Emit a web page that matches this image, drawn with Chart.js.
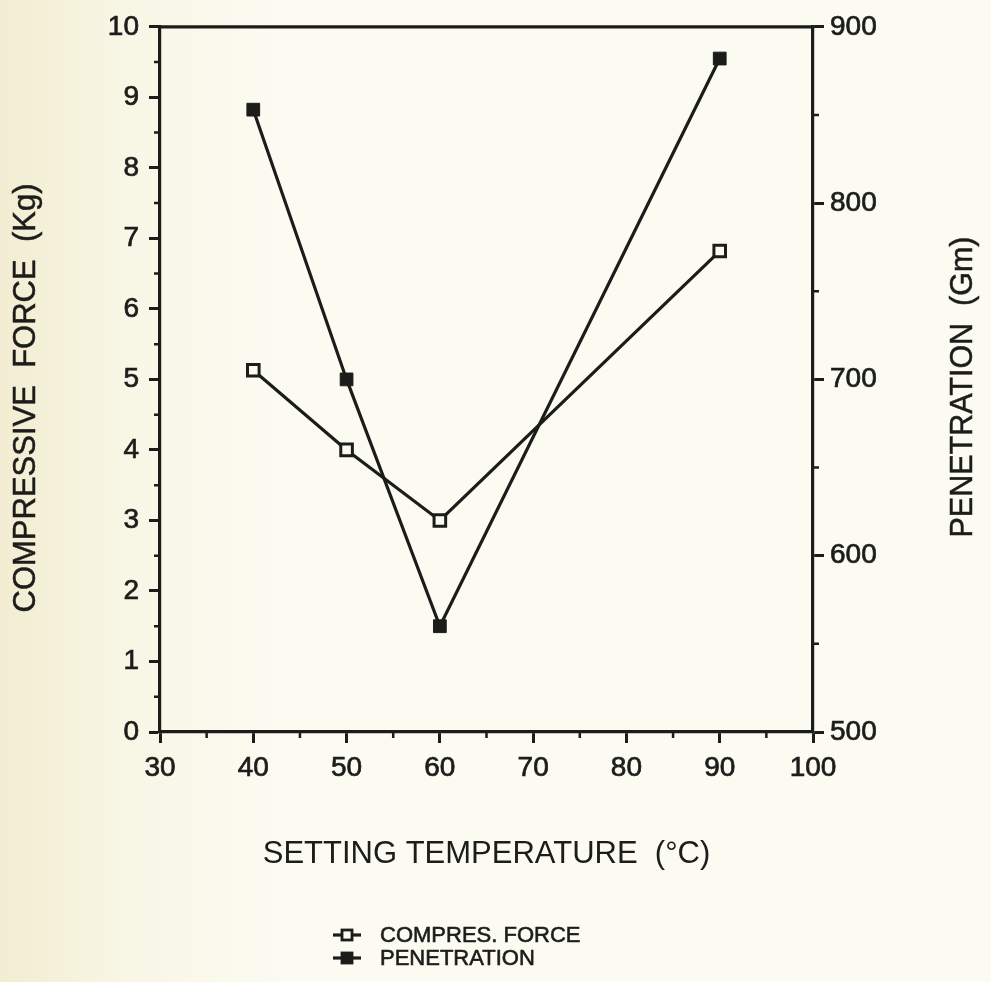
<!DOCTYPE html>
<html>
<head>
<meta charset="utf-8">
<script src="https://cdn.jsdelivr.net/npm/chart.js@4"></script>
<style>
  html, body { margin: 0; padding: 0; background: #fbfbf2; }
  #wrap { width: 991px; height: 982px; }
</style>
</head>
<body>
<div id="wrap"><canvas id="chart"></canvas></div>
<script>
// values
const temps = [40, 50, 60, 90];
const compForce = [5.13, 4.0, 3.0, 6.82];
const penetration = [853, 700, 560, 882];
const seriesNames = ['COMPRES. FORCE', 'PENETRATION'];

// minor tick positions
const xMinor = [35, 45, 55, 65, 75, 85, 95];
const yMinor = [0.5, 1.5, 2.5, 3.5, 4.5, 5.5, 6.5, 7.5, 8.5, 9.5];
const y2Minor = [550, 650, 750, 850];

const ink = '#1c1c1a';
const fontFam = '"Liberation Sans", Arial, Helvetica, sans-serif';

const paper = {
  id: 'paper',
  beforeDraw(chart) {
    const { ctx, width, height } = chart;
    const g = ctx.createLinearGradient(0, 0, 280, 0);
    g.addColorStop(0, '#f2edd2');
    g.addColorStop(0.45, '#f8f6e5');
    g.addColorStop(1, '#fbfbf2');
    ctx.save();
    ctx.fillStyle = g;
    ctx.fillRect(0, 0, width, height);
    ctx.restore();
  }
};

function heavyText(ctx, str, x, y) {
  ctx.fillText(str, x, y);
  ctx.strokeText(str, x, y);
}

const extras = {
  id: 'extras',
  afterDraw(chart) {
    const { ctx, chartArea: a, scales } = chart;
    ctx.save();
    ctx.strokeStyle = ink;
    ctx.lineWidth = 3.2;
    // top frame line
    ctx.beginPath();
    ctx.moveTo(a.left - 1.5, a.top);
    ctx.lineTo(a.right + 1.5, a.top);
    ctx.stroke();

    // minor ticks
    ctx.lineWidth = 2.5;
    ctx.beginPath();
    xMinor.forEach(v => {
      const px = scales.x.getPixelForValue(v);
      ctx.moveTo(px, a.bottom);
      ctx.lineTo(px, a.bottom + 6);
    });
    yMinor.forEach(v => {
      const py = scales.y.getPixelForValue(v);
      ctx.moveTo(a.left, py);
      ctx.lineTo(a.left - 6, py);
    });
    y2Minor.forEach(v => {
      const py = scales.y2.getPixelForValue(v);
      ctx.moveTo(a.right, py);
      ctx.lineTo(a.right + 6, py);
    });
    ctx.stroke();

    // side titles, both read bottom to top
    ctx.fillStyle = ink;
    ctx.lineWidth = 0.5;
    ctx.textAlign = 'center';
    ctx.textBaseline = 'middle';
    ctx.font = '31px ' + fontFam;
    ctx.save();
    ctx.translate(26, 398);
    ctx.rotate(-Math.PI / 2);
    heavyText(ctx, 'COMPRESSIVE  FORCE  (Kg)', 0, 0);
    ctx.restore();
    ctx.font = '30.5px ' + fontFam;
    ctx.save();
    ctx.translate(964, 387);
    ctx.rotate(-Math.PI / 2);
    heavyText(ctx, 'PENETRATION  (Gm)', 0, 0);
    ctx.restore();

    // legend
    ctx.font = '22px ' + fontFam;
    ctx.textAlign = 'left';
    chart.data.datasets.forEach((ds, i) => {
      const y = 935 + i * 23;
      ctx.lineWidth = 3.2;
      ctx.beginPath();
      ctx.moveTo(333, y);
      ctx.lineTo(361, y);
      ctx.stroke();
      ctx.fillStyle = ds.pointBackgroundColor;
      ctx.fillRect(342, y - 5, 10, 10);
      ctx.lineWidth = 2.8;
      ctx.strokeRect(342, y - 5, 10, 10);
      ctx.fillStyle = ink;
      ctx.lineWidth = 0.6;
      heavyText(ctx, ds.label, 380, y + 1);
    });
    ctx.restore();
  }
};

const tickFont = { family: fontFam, size: 28 };
const tickStyle = { color: ink, font: tickFont, textStrokeColor: ink, textStrokeWidth: 0.7 };

new Chart(document.getElementById('chart'), {
  type: 'line',
  data: {
    datasets: [
      {
        label: seriesNames[0],
        data: temps.map((t, i) => ({ x: t, y: compForce[i] })),
        yAxisID: 'y',
        borderColor: ink,
        borderWidth: 3.2,
        pointStyle: 'rect',
        pointRadius: 8.2,
        pointBackgroundColor: '#fbfbf2',
        pointBorderColor: ink,
        pointBorderWidth: 3,
        tension: 0
      },
      {
        label: seriesNames[1],
        data: temps.map((t, i) => ({ x: t, y: penetration[i] })),
        yAxisID: 'y2',
        borderColor: ink,
        borderWidth: 3.2,
        pointStyle: 'rect',
        pointRadius: 9,
        pointBackgroundColor: ink,
        pointBorderColor: ink,
        pointBorderWidth: 1,
        tension: 0
      }
    ]
  },
  options: {
    responsive: true,
    maintainAspectRatio: false,
    animation: false,
    layout: { padding: { top: 22, bottom: 100, left: 0, right: 0 } },
    plugins: {
      legend: { display: false },
      tooltip: { enabled: false }
    },
    scales: {
      x: {
        type: 'linear',
        position: 'bottom',
        min: 30,
        max: 100,
        ticks: { ...tickStyle, stepSize: 10, padding: 8, maxRotation: 0 },
        grid: { drawOnChartArea: false, tickLength: 11, tickWidth: 3, tickColor: ink },
        border: { color: ink, width: 3.2 },
        title: {
          display: true,
          text: 'SETTING TEMPERATURE  (°C)',
          color: ink,
          font: { family: fontFam, size: 31 },
          padding: { top: 0, bottom: 9 }
        },
        afterFit: s => { s.height = 150; }
      },
      y: {
        position: 'left',
        min: 0,
        max: 10,
        ticks: { ...tickStyle, stepSize: 1, padding: 10 },
        grid: { drawOnChartArea: false, tickLength: 11, tickWidth: 3, tickColor: ink },
        border: { color: ink, width: 3.2 },
        afterFit: s => { s.width = 160; }
      },
      y2: {
        position: 'right',
        min: 500,
        max: 900,
        ticks: { ...tickStyle, stepSize: 100, padding: 6 },
        grid: { drawOnChartArea: false, tickLength: 11, tickWidth: 3, tickColor: ink },
        border: { color: ink, width: 3.2 },
        afterFit: s => { s.width = 178; }
      }
    }
  },
  plugins: [paper, extras]
});
</script>
</body>
</html>
